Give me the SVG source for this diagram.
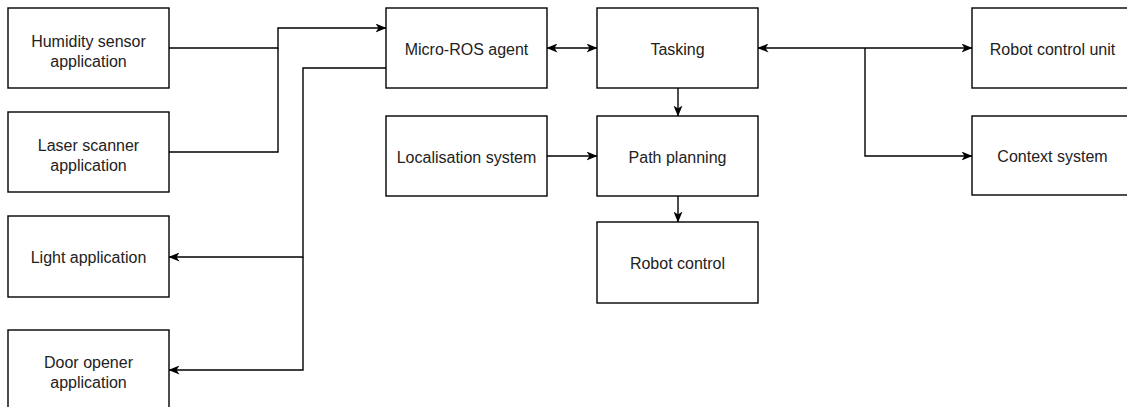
<svg xmlns="http://www.w3.org/2000/svg" width="1127" height="407" viewBox="0 0 1127 407">
  <style>
    .box { fill: #ffffff; stroke: #000000; stroke-width: 1.4; }
    .label { font-family: "Liberation Sans", Arial, Helvetica, sans-serif; font-size: 16px; fill: #222222; text-anchor: middle; }
    .wire { fill: none; stroke: #000000; stroke-width: 1.4; }
    .to { marker-end: url(#arrow); }
    .both { marker-start: url(#arrow); marker-end: url(#arrow); }
  </style>
  <defs>
    <marker id="arrow" viewBox="0 0 11 9" refX="10.5" refY="4.5" markerWidth="11" markerHeight="9" markerUnits="userSpaceOnUse" orient="auto-start-reverse">
      <path d="M0,0 L11,4.5 L0,9 L3,4.5 Z" fill="#000000"/>
    </marker>
  </defs>
  <rect width="1127" height="407" fill="#ffffff"/>

  <!-- connectors -->
  <g id="connectors">
    <path class="wire to" d="M169,48 H278 V28 H386"/>
    <path class="wire" d="M169,152 H278 V48"/>
    <path class="wire to" d="M386,68 H303 V257 H169"/>
    <path class="wire to" d="M303,257 V370 H169"/>
    <path class="wire both" d="M547,48 H597"/>
    <path class="wire both" d="M758,48 H972"/>
    <path class="wire to" d="M865,48 V156 H972"/>
    <path class="wire to" d="M678,88 V116"/>
    <path class="wire to" d="M547,156 H597"/>
    <path class="wire to" d="M678,196 V222"/>
  </g>

  <!-- application nodes -->
  <g id="humidity-sensor">
    <rect class="box" x="8" y="8" width="161" height="80"/>
    <text class="label" x="88.5" y="47">Humidity sensor</text>
    <text class="label" x="88.5" y="67">application</text>
  </g>
  <g id="laser-scanner">
    <rect class="box" x="8" y="112" width="161" height="80"/>
    <text class="label" x="88.5" y="151">Laser scanner</text>
    <text class="label" x="88.5" y="171">application</text>
  </g>
  <g id="light">
    <rect class="box" x="8" y="216" width="161" height="81"/>
    <text class="label" x="88.5" y="263">Light application</text>
  </g>
  <g id="door-opener">
    <rect class="box" x="8" y="330" width="161" height="80"/>
    <text class="label" x="88.5" y="368">Door opener</text>
    <text class="label" x="88.5" y="388">application</text>
  </g>

  <!-- middleware and planning nodes -->
  <g id="micro-ros-agent">
    <rect class="box" x="386" y="8" width="161" height="80"/>
    <text class="label" x="466.5" y="55">Micro-ROS agent</text>
  </g>
  <g id="localisation-system">
    <rect class="box" x="386" y="116" width="161" height="80"/>
    <text class="label" x="466.5" y="163">Localisation system</text>
  </g>
  <g id="tasking">
    <rect class="box" x="597" y="8" width="161" height="80"/>
    <text class="label" x="677.5" y="55">Tasking</text>
  </g>
  <g id="path-planning">
    <rect class="box" x="597" y="116" width="161" height="80"/>
    <text class="label" x="677.5" y="163">Path planning</text>
  </g>
  <g id="robot-control">
    <rect class="box" x="597" y="222" width="161" height="81"/>
    <text class="label" x="677.5" y="269">Robot control</text>
  </g>

  <!-- robot side nodes -->
  <g id="robot-control-unit">
    <rect class="box" x="972" y="8" width="161" height="80"/>
    <text class="label" x="1052.5" y="55">Robot control unit</text>
  </g>
  <g id="context-system">
    <rect class="box" x="972" y="116" width="161" height="79"/>
    <text class="label" x="1052.5" y="162">Context system</text>
  </g>
</svg>
